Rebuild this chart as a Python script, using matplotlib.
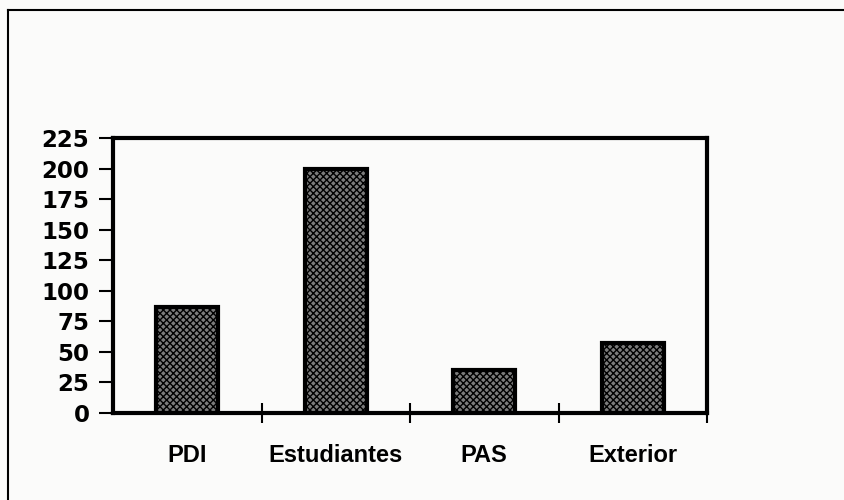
import numpy as np
import matplotlib.pyplot as plt

# data
categories = ['PDI', 'Estudiantes', 'PAS', 'Exterior']
values = [87, 200, 35, 57]
y_ticks = [0, 25, 50, 75, 100, 125, 150, 175, 200, 225]

plt.rcParams['font.family'] = ['Liberation Sans', 'DejaVu Sans']
plt.rcParams['hatch.color'] = '#262626'
plt.rcParams['hatch.linewidth'] = 1.0

fig = plt.figure(figsize=(8.44, 5.0), dpi=100)
fig.patch.set_facecolor('#fbfbfa')

# outer frame of the scanned figure (only left and top edges visible)
fig.add_artist(plt.Line2D([8 / 844, 8 / 844], [0, 1 - 10 / 500], transform=fig.transFigure,
                          color='black', lw=1.5))
fig.add_artist(plt.Line2D([8 / 844, 1], [1 - 10 / 500, 1 - 10 / 500], transform=fig.transFigure,
                          color='black', lw=1.5))

ax = fig.add_axes([113 / 844, 87 / 500, 594 / 844, 275 / 500])
ax.set_facecolor('none')

x = np.arange(len(categories))
ax.bar(x, values, width=0.42, color='#7c7c7c', edgecolor='black', linewidth=3,
       hatch='xxxxx', zorder=3)

ax.set_xlim(-0.5, len(categories) - 0.5)
ax.set_ylim(0, 225)
ax.set_yticks(y_ticks)
# the scan uses wide, letter-spaced digits: DejaVu bold is the closer width
ax.set_yticklabels([str(v) for v in y_ticks], fontsize=16.5, fontweight='bold',
                   family='DejaVu Sans')

# category labels on major ticks, boundary marks on minor ticks
ax.set_xticks(x)
ax.set_xticklabels(categories, fontsize=17, fontweight='bold')
ax.set_xticks(np.arange(0.5, len(categories) - 0.4, 1.0), minor=True)
ax.tick_params(axis='x', which='major', length=0, pad=22)
ax.tick_params(axis='x', which='minor', direction='inout', length=14, width=1.5)
ax.tick_params(axis='y', direction='out', length=10, width=1.5, pad=7)

for side in ['left', 'bottom', 'top', 'right']:
    ax.spines[side].set_linewidth(3)

fig.savefig('out.png', dpi=100, facecolor=fig.get_facecolor())
